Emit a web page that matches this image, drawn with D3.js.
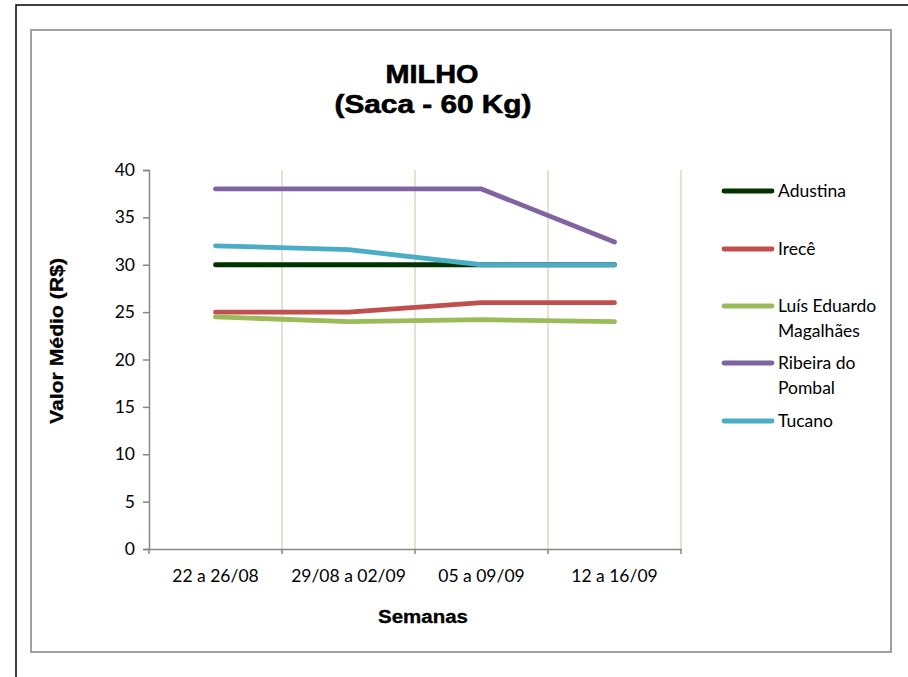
<!DOCTYPE html>
<html>
<head>
<meta charset="utf-8">
<script src="https://cdn.jsdelivr.net/npm/d3@7"></script>
<style>
  html, body { margin: 0; padding: 0; background: #fff; }
  svg { display: block; }
</style>
</head>
<body>
<svg id="chart" width="908" height="677"></svg>
<script>
// ---- Data ----
const categories = ["22 a 26/08", "29/08 a 02/09", "05 a 09/09", "12 a 16/09"];
const seriesNames = ["Adustina", "Irecê", "Luís Eduardo Magalhães", "Ribeira do Pombal", "Tucano"];
const legendLabels = [["Adustina"], ["Irecê"], ["Luís Eduardo", "Magalhães"], ["Ribeira do", "Pombal"], ["Tucano"]];
const adustina = [30, 30, 30, 30];
const irece = [25, 25, 26, 26];
const luisEduardo = [24.5, 24, 24.2, 24];
const ribeira = [38, 38, 38, 32.4];
const tucano = [32, 31.6, 30, 30];
const yTicks = [0, 5, 10, 15, 20, 25, 30, 35, 40];
const colors = ["#003300", "#c0504d", "#9bbb59", "#8064a2", "#4bacc6"];
const titleLines = ["MILHO", "(Saca - 60 Kg)"];
const xTitle = "Semanas";
const yTitle = "Valor Médio (R$)";

const seriesValues = [adustina, irece, luisEduardo, ribeira, tucano];

const svg = d3.select("#chart");

// outer frame
svg.append("rect").attr("x", 16).attr("y", 5).attr("width", 1000).attr("height", 1000)
  .attr("fill", "none").attr("stroke", "#000").attr("stroke-width", 1.5);
// chart frame
svg.append("rect").attr("x", 31).attr("y", 30).attr("width", 860).attr("height", 622)
  .attr("fill", "#fff").attr("stroke", "#a0a0a0").attr("stroke-width", 2);

const plot = { left: 149, right: 681, top: 170, bottom: 549 };

const x = d3.scaleBand().domain(categories).range([plot.left, plot.right]).padding(0);
const y = d3.scaleLinear().domain([0, 40]).range([plot.bottom, plot.top]);

const labelFont = "Lato, Carlito, sans-serif";
const boldFont = "'Liberation Sans', Arial, sans-serif";

// vertical gridlines at category boundaries
const bounds = categories.map(c => x(c) + x.bandwidth());
svg.append("g").selectAll("line").data(bounds).join("line")
  .attr("x1", d => d).attr("x2", d => d)
  .attr("y1", plot.top).attr("y2", plot.bottom)
  .attr("stroke", "#ddd9c3").attr("stroke-width", 1.5);

// y axis
const yAxis = d3.axisLeft(y).tickValues(yTicks).tickSize(6).tickPadding(8);
const gy = svg.append("g").attr("transform", `translate(${plot.left},0)`).call(yAxis);
gy.select(".domain").attr("stroke", "#868686").attr("stroke-width", 1.5);
gy.selectAll(".tick line").attr("stroke", "#868686").attr("stroke-width", 1.5);
gy.selectAll(".tick text").attr("font-family", labelFont).attr("font-size", "17.5px").attr("fill", "#000");

// x axis
const xAxis = d3.axisBottom(x).tickSize(0).tickPadding(21);
const gx = svg.append("g").attr("transform", `translate(0,${plot.bottom})`).call(xAxis);
gx.select(".domain").attr("stroke", "#868686").attr("stroke-width", 1.5);
gx.selectAll(".tick text").attr("font-family", labelFont).attr("font-size", "17.5px").attr("fill", "#000");
// boundary tick marks
svg.append("g").selectAll("line").data([plot.left, ...bounds]).join("line")
  .attr("x1", d => d).attr("x2", d => d)
  .attr("y1", plot.bottom).attr("y2", plot.bottom + 5)
  .attr("stroke", "#868686").attr("stroke-width", 1.5);

// lines
const line = d3.line().x((d, i) => x(categories[i]) + x.bandwidth() / 2).y(d => y(d));
svg.append("g").selectAll("path").data(seriesValues).join("path")
  .attr("d", d => line(d))
  .attr("fill", "none")
  .attr("stroke", (d, i) => colors[i])
  .attr("stroke-width", 4.8)
  .attr("stroke-linecap", "round")
  .attr("stroke-linejoin", "round");

// title
const title = svg.append("text").attr("text-anchor", "middle")
  .attr("font-family", boldFont).attr("font-weight", "bold")
  .attr("font-size", "25px").attr("fill", "#000")
  .attr("stroke", "#000").attr("stroke-width", 0.6);
title.append("tspan").attr("x", 432).attr("y", 83).text(titleLines[0])
  .attr("textLength", 93).attr("lengthAdjust", "spacingAndGlyphs");
title.append("tspan").attr("x", 433).attr("y", 113).text(titleLines[1])
  .attr("textLength", 197).attr("lengthAdjust", "spacingAndGlyphs");

// axis titles
svg.append("text").attr("x", 423).attr("y", 623).attr("text-anchor", "middle")
  .attr("font-family", boldFont).attr("font-weight", "bold")
  .attr("font-size", "18px").attr("stroke", "#000").attr("stroke-width", 0.3)
  .attr("textLength", 90).attr("lengthAdjust", "spacingAndGlyphs").text(xTitle);
svg.append("text").attr("transform", "translate(63,341) rotate(-90)").attr("text-anchor", "middle")
  .attr("font-family", boldFont).attr("font-weight", "bold")
  .attr("font-size", "18px").attr("stroke", "#000").attr("stroke-width", 0.3)
  .attr("textLength", 166).attr("lengthAdjust", "spacingAndGlyphs").text(yTitle);

// legend
const legendY = [191, 249, 306, 363, 421];
const lg = svg.append("g");
seriesNames.forEach((name, i) => {
  const g = lg.append("g").attr("transform", `translate(0,${legendY[i]})`);
  g.append("line").attr("x1", 724).attr("x2", 772).attr("y1", 0).attr("y2", 0)
    .attr("stroke", colors[i]).attr("stroke-width", 4.8).attr("stroke-linecap", "round");
  const t = g.append("text").attr("font-family", labelFont).attr("font-size", "17.5px").attr("fill", "#000");
  legendLabels[i].forEach((l, j) => {
    t.append("tspan").attr("x", 778).attr("y", 6 + j * 25).text(l);
  });
});
</script>
</body>
</html>
